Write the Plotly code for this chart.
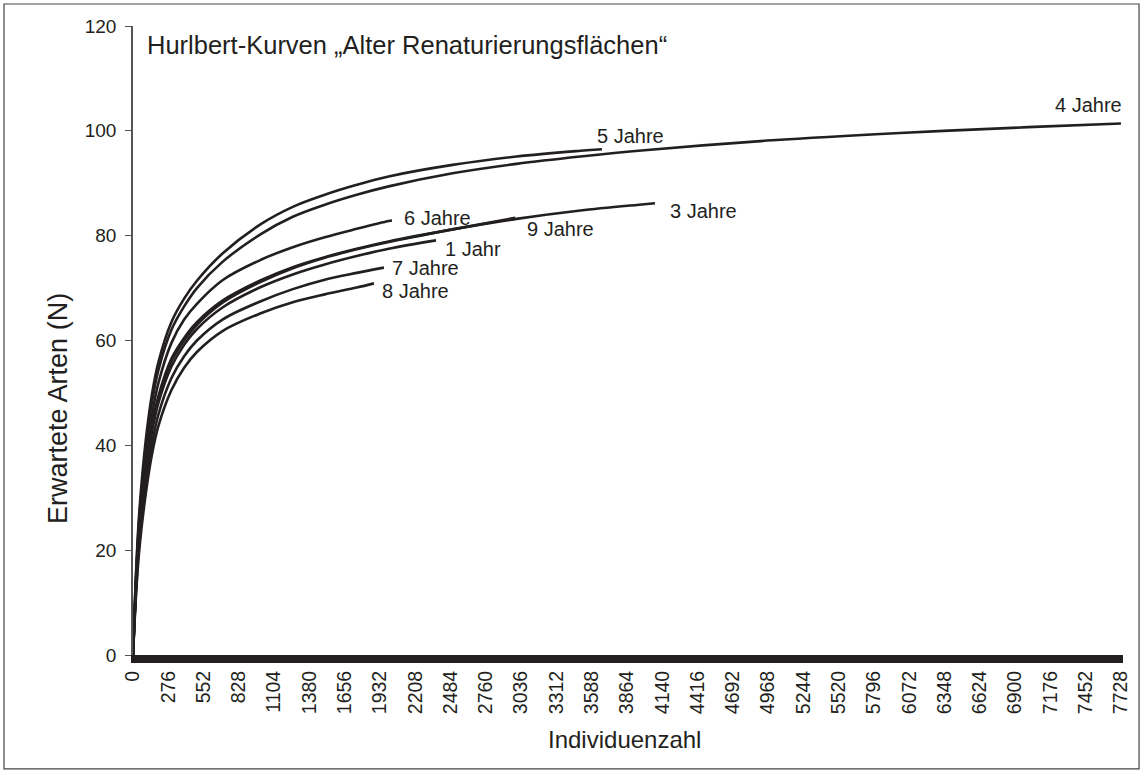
import plotly.graph_objects as go

# ---- data ----
x_ticks = [0, 276, 552, 828, 1104, 1380, 1656, 1932, 2208, 2484, 2760, 3036, 3312, 3588,
           3864, 4140, 4416, 4692, 4968, 5244, 5520, 5796, 6072, 6348, 6624, 6900, 7176,
           7452, 7728]
y_ticks = [0, 20, 40, 60, 80, 100, 120]

x_4 = [0, 25, 50, 100, 150, 200, 300, 400, 500, 700, 1000, 1250, 1500, 1750, 2000, 2500, 3000, 3500, 4000, 5000, 6000, 7000, 7728]
y_4 = [0, 15.5, 26.5, 39.5, 48.5, 54.5, 62, 66.5, 70, 75, 80.3, 83.6, 85.9, 87.8, 89.4, 91.9, 93.7, 95.1, 96.3, 98.2, 99.6, 100.7, 101.4]

x_5 = [0, 25, 50, 100, 150, 200, 300, 400, 500, 700, 1000, 1250, 1500, 1750, 2000, 2500, 3000, 3500, 3668]
y_5 = [0, 16.5, 27.5, 41, 50, 56, 63.5, 68, 71.4, 76.6, 82.2, 85.5, 87.8, 89.7, 91.3, 93.5, 95.1, 96.2, 96.5]

x_6 = [0, 25, 50, 100, 150, 200, 300, 400, 500, 700, 1000, 1250, 1500, 1750, 2000, 2026]
y_6 = [0, 15, 25.5, 37.5, 46, 52, 59.5, 64, 67, 71.5, 75.4, 77.8, 79.7, 81.3, 82.8, 82.9]

x_3 = [0, 25, 50, 100, 150, 200, 300, 400, 500, 700, 1000, 1250, 1500, 1750, 2000, 2500, 3000, 3500, 4000, 4083]
y_3 = [0, 14, 24, 35.5, 44, 49.5, 56.5, 60.5, 63.5, 67.6, 71.5, 74, 75.9, 77.5, 78.9, 81.2, 83.2, 84.8, 86.0, 86.2]

x_9 = [0, 25, 50, 100, 150, 200, 300, 400, 500, 700, 1000, 1250, 1500, 1750, 2000, 2500, 2990]
y_9 = [0, 13.8, 23.5, 35, 43.5, 49, 56, 60, 63, 67.2, 71.2, 73.8, 75.8, 77.4, 78.8, 81.2, 83.4]

x_1 = [0, 25, 50, 100, 150, 200, 300, 400, 500, 700, 1000, 1250, 1500, 1750, 2000, 2370]
y_1 = [0, 13.5, 23, 34.5, 42.8, 48.2, 55, 59.2, 62.2, 66.3, 70.2, 72.6, 74.5, 76.1, 77.5, 79.1]

x_7 = [0, 25, 50, 100, 150, 200, 300, 400, 500, 700, 1000, 1250, 1500, 1750, 1963]
y_7 = [0, 12.8, 21.5, 32.5, 40.5, 46, 52.8, 57, 60, 64, 67.5, 69.8, 71.6, 72.9, 73.9]

x_8 = [0, 25, 50, 100, 150, 200, 300, 400, 500, 700, 1000, 1250, 1500, 1750, 1885]
y_8 = [0, 12, 20.3, 30.8, 38.5, 43.8, 50.5, 54.8, 57.8, 61.8, 65.2, 67.3, 68.8, 70.1, 70.9]

series = [
    ("4 Jahre", x_4, y_4, "right", 3, 19),
    ("5 Jahre", x_5, y_5, "left", -7, 13),
    ("6 Jahre", x_6, y_6, "left", 10, 2),
    ("3 Jahre", x_3, y_3, "left", 13, -8),
    ("9 Jahre", x_9, y_9, "left", 10, -11),
    ("1 Jahr", x_1, y_1, "left", 7, -9),
    ("7 Jahre", x_7, y_7, "left", 6, 0),
    ("8 Jahre", x_8, y_8, "left", 6, -8),
]

INK = "#231f20"
FONT = "Liberation Sans, Arial, Helvetica, sans-serif"

fig = go.Figure()
annotations = []
for name, xs, ys, anchor, dx, dy in series:
    fig.add_trace(go.Scatter(x=xs, y=ys, mode="lines", name=name,
                             line=dict(color=INK, width=2.6, shape="spline", smoothing=1.0),
                             hoverinfo="x+y+name"))
    annotations.append(dict(x=xs[-1], y=ys[-1], xref="x", yref="y", text=name,
                            showarrow=False, xanchor=anchor, yanchor="middle",
                            xshift=dx, yshift=dy, font=dict(size=20, color=INK, family=FONT)))

annotations.append(dict(text="Hurlbert-Kurven „Alter Renaturierungsflächen“", xref="paper", yref="paper",
                        x=0.0121, y=0.9698, xanchor="left", yanchor="middle", showarrow=False,
                        font=dict(size=25.5, color=INK, family=FONT)))
annotations.append(dict(text="Erwartete Arten (N)", xref="paper", yref="paper",
                        x=-0.0758, y=0.3927, xanchor="center", yanchor="middle", textangle=-90,
                        showarrow=False, font=dict(size=27, color=INK, family=FONT)))
annotations.append(dict(text="Individuenzahl", xref="paper", yref="paper",
                        x=0.496, y=-0.1351, xanchor="center", yanchor="middle",
                        showarrow=False, font=dict(size=24, color=INK, family=FONT)))

fig.update_layout(
    width=1147, height=772,
    margin=dict(l=133, r=24, t=26, b=117, autoexpand=False),
    paper_bgcolor="white", plot_bgcolor="white",
    showlegend=False,
    font=dict(family=FONT, color=INK),
    annotations=annotations,
    shapes=[dict(type="rect", xref="paper", yref="paper", x0=-0.1303, x1=1.0162,
                 y0=-0.1812, y1=1.035, line=dict(color="#444444", width=1.2), layer="below")],
)
fig.update_xaxes(range=[0, 7744], tickmode="array", tickvals=x_ticks,
                 ticktext=[str(v) for v in x_ticks], tickangle=-90,
                 tickfont=dict(size=19.5, color=INK, family=FONT), automargin=False,
                 showgrid=False, zeroline=False, showline=True, linecolor=INK, linewidth=8,
                 ticks="")
fig.update_yaxes(range=[0, 120], tickmode="array", tickvals=y_ticks, automargin=False,
                 tickfont=dict(size=19, color=INK, family=FONT), ticklabelstandoff=5,
                 showgrid=False, zeroline=False, showline=True, linecolor="#555555", linewidth=1.5,
                 ticks="outside", ticklen=6, tickcolor="#555555", tickwidth=1.2)

fig.write_html("out.html", config={"displayModeBar": False},
               post_script="document.body.style.margin='0';document.body.style.overflow='hidden';")
